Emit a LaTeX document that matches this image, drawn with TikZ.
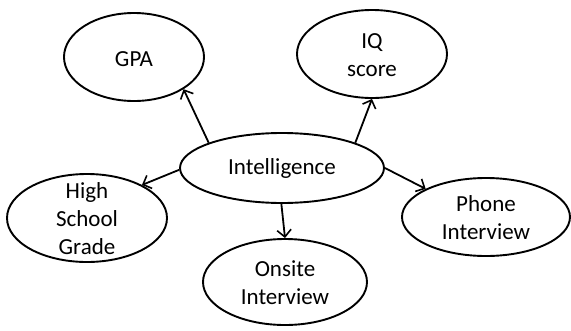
\documentclass[tikz,border=0pt]{standalone}
\usepackage{fontspec}
\setmainfont{Carlito}
\usetikzlibrary{shapes.geometric,arrows.meta}
\begin{document}
\begin{tikzpicture}[x=1pt,y=-1pt,
  oval/.style={draw, ellipse, line width=1.9pt, inner sep=0pt},
  txt/.style={font=\fontsize{23}{28}\selectfont, align=center},
  link/.style={line width=1.8pt, -{Straight Barb[length=7pt,width=14pt,line width=1.6pt]}}]
  \useasboundingbox (0,0) rectangle (571,330);

  % central variable
  \node[oval, minimum width=204pt, minimum height=70pt] (int) at (282,168) {};
  \node[txt] (intt) at (282,168) {Intelligence};

  % observed measurements
  \node[oval, minimum width=140pt, minimum height=88pt] (gpa) at (134,57) {};
  \node[txt] (gpat) at (134,59) {GPA};

  \node[oval, minimum width=150pt, minimum height=88pt] (iq) at (372,54) {};
  \node[txt] (iqt) at (372,55) {IQ\\score};

  \node[oval, minimum width=160pt, minimum height=88pt] (hsg) at (87,218) {};
  \node[txt] (hsgt) at (87,219) {High\\School\\Grade};

  \node[oval, minimum width=164pt, minimum height=86pt] (ons) at (285,282) {};
  \node[txt] (onst) at (285,283) {Onsite\\Interview};

  \node[oval, minimum width=168pt, minimum height=78pt] (pho) at (486,217) {};
  \node[txt] (phot) at (486,218) {Phone\\Interview};

  % arrows from the central variable
  \draw[link] (int.161) -- (gpa.-33);
  \draw[link] (int.19)  -- (iq.270);
  \draw[link] (int.181) -- (hsg.31);
  \draw[link] (int.269) -- (ons.90);
  \draw[link] (int.0)   -- (pho.155);
\end{tikzpicture}
\end{document}
